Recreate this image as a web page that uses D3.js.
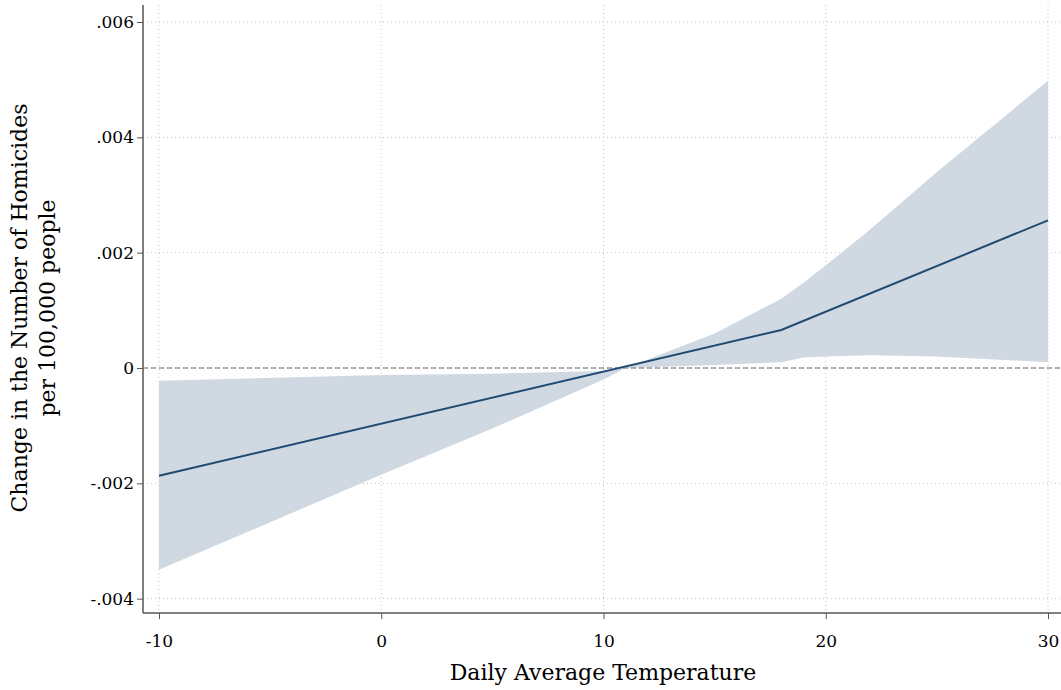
<!DOCTYPE html>
<html><head><meta charset="utf-8">
<script src="https://cdn.jsdelivr.net/npm/d3@7"></script>
<style>body{margin:0;background:#fff}svg{display:block}</style>
</head><body>
<script>
// data
const fitX = [-10, 18, 30];
const fitY = [-0.00187, 0.00066, 0.00256];
const bandX = [-10, 0, 5, 10, 11, 15, 18, 19, 20, 22, 25, 30];
const bandHi = [-0.00022, -0.00012, -0.0001, -0.00005, 0, 0.0006, 0.0012, 0.00148, 0.00178, 0.0024, 0.0034, 0.00498];
const bandLo = [-0.0035, -0.00185, -0.00105, -0.0002, 0, 0.00005, 0.0001, 0.00018, 0.0002, 0.00022, 0.0002, 0.0001];
const xTicks = [-10, 0, 10, 20, 30];
const yTicks = [-0.004, -0.002, 0, 0.002, 0.004, 0.006];

const W = 1061, H = 690;
const FONT = "'DejaVu Serif', serif";
const x = d3.scaleLinear().domain([-10, 30]).range([159, 1048]);
const y = d3.scaleLinear().domain([0, 0.006]).range([368, 22]);
const fmt = d => d === 0 ? "0" : (d < 0 ? "-" : "") + d3.format(".3f")(Math.abs(d)).replace("0.", ".");

const svg = d3.select("body").append("svg").attr("width", W).attr("height", H)
  .style("font-family", FONT);

// grid
svg.selectAll(".gy").data(yTicks).join("line")
  .attr("x1", 143).attr("x2", 1061).attr("y1", d => y(d)).attr("y2", d => y(d))
  .attr("stroke", "#c0c0c0").attr("stroke-dasharray", "1,3");
svg.selectAll(".gx").data(xTicks).join("line")
  .attr("y1", 5).attr("y2", 613).attr("x1", d => x(d)).attr("x2", d => x(d))
  .attr("stroke", "#c0c0c0").attr("stroke-dasharray", "1,3");

// band
const band = bandX.map((v, i) => [v, bandLo[i], bandHi[i]]);
svg.append("path").datum(band)
  .attr("d", d3.area().x(d => x(d[0])).y0(d => y(d[1])).y1(d => y(d[2])))
  .attr("fill", "#d0d9e2");

// zero line
svg.append("line").attr("x1", 143).attr("x2", 1061).attr("y1", y(0)).attr("y2", y(0))
  .attr("stroke", "#666").attr("stroke-dasharray", "5,3");

// fit line
svg.append("path").datum(fitX.map((v, i) => [v, fitY[i]]))
  .attr("d", d3.line().x(d => x(d[0])).y(d => y(d[1])))
  .attr("fill", "none").attr("stroke", "#1f4a72").attr("stroke-width", 2);

// axes
const ax = svg.append("g").attr("transform", "translate(0,613)")
  .call(d3.axisBottom(x).tickValues(xTicks).tickSize(6).tickFormat(d => String(d)));
ax.select(".domain").attr("d", "M143,0H1061");
const ay = svg.append("g").attr("transform", "translate(143,0)")
  .call(d3.axisLeft(y).tickValues(yTicks).tickSize(6).tickFormat(fmt));
ay.select(".domain").attr("d", "M0,5V613");
svg.selectAll(".domain").attr("stroke", "#555").attr("stroke-width", 1.5);
svg.selectAll(".tick line").attr("stroke", "#555");
svg.selectAll(".tick text").attr("font-family", FONT)
  .attr("font-size", 17).attr("fill", "#000");
ax.selectAll(".tick text").attr("y", 22);
ay.selectAll(".tick text").attr("x", -9);

svg.append("text").attr("x", 603).attr("y", 680).attr("text-anchor", "middle")
  .attr("font-size", 22).text("Daily Average Temperature");
const yl = svg.append("text").attr("transform", "translate(27,308) rotate(-90)")
  .attr("text-anchor", "middle").attr("font-size", 22);
yl.append("tspan").attr("x", 0).attr("dy", 0).text("Change in the Number of Homicides");
yl.append("tspan").attr("x", 0).attr("dy", 28).text("per 100,000 people");
</script>
</body></html>
